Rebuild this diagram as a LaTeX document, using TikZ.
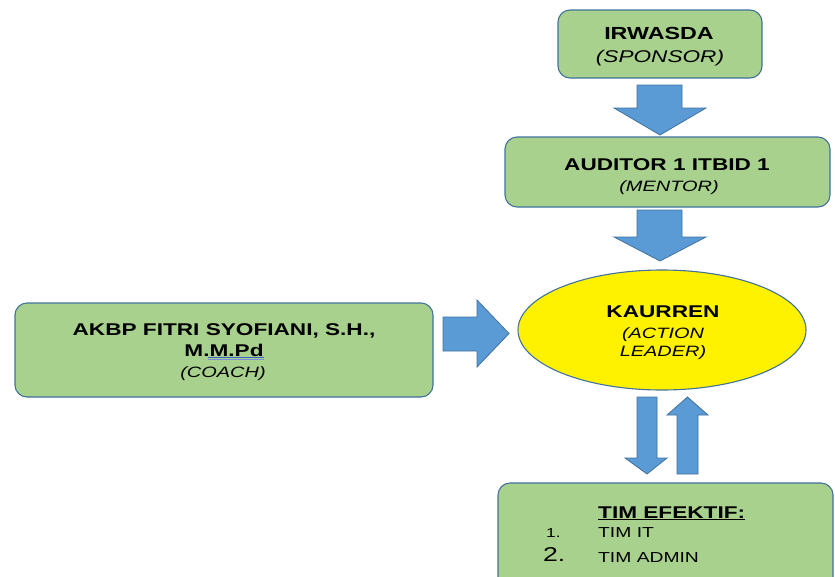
\documentclass[tikz,border=0pt]{standalone}
\usepackage{fontspec}
\usepackage{graphicx}
\setmainfont{Liberation Sans}
\usetikzlibrary{shapes.geometric,calc}
\definecolor{boxgreen}{HTML}{A9D18E}
\definecolor{edgeblue}{HTML}{41719C}
\definecolor{arrowblue}{HTML}{5B9BD5}
\definecolor{spellblue}{HTML}{3F5FC8}
\newcommand\widetxt[1]{\scalebox{1.33}[1]{#1}}
\tikzset{
  greenbox/.style={draw=edgeblue, fill=boxgreen, rounded corners=12pt, line width=1.1pt, inner sep=0pt},
  blockarrow/.style={draw=edgeblue, fill=arrowblue, line width=0.8pt, line join=miter},
  titletext/.style={anchor=base, inner sep=0pt, font=\fontsize{17}{20}\bfseries\selectfont},
  subtext/.style={anchor=base, inner sep=0pt, font=\fontsize{15}{18}\itshape\selectfont},
  listtext/.style={anchor=base west, inner sep=0pt, font=\fontsize{14.5}{17}\selectfont},
}
\begin{document}
\begin{tikzpicture}[x=1pt, y=-1pt]
\useasboundingbox (0,0) rectangle (835,576);
\clip (0,0) rectangle (835,576);
% boxes
\node[greenbox, minimum width=204pt, minimum height=68pt] (irw) at (660,44) {};
\node[greenbox, minimum width=325pt, minimum height=70pt] (aud) at (667.5,172) {};
\node[greenbox, minimum width=418pt, minimum height=94pt] (coach) at (224,350) {};
\node[ellipse, draw=edgeblue, fill=yellow, line width=1.1pt, minimum width=288pt, minimum height=120pt, inner sep=0pt] (kaur) at (662,330) {};
\draw[greenbox] (498,483) rectangle (833,600);
% texts
\node[titletext, font=\fontsize{17.5}{20}\bfseries\selectfont] (irwt) at (659,39) {\widetxt{IRWASDA}};
\node[subtext, font=\fontsize{17}{20}\itshape\selectfont] (irws) at (660,62) {\widetxt{(SPONSOR)}};
\node[titletext] (audt) at (667,170) {\widetxt{AUDITOR 1 ITBID 1}};
\node[subtext] (auds) at (669,191) {\widetxt{(MENTOR)}};
\node[titletext] (coacht) at (224,335) {\widetxt{AKBP FITRI SYOFIANI, S.H.,}};
\node[titletext] (coachm) at (224,356) {\widetxt{M.M.Pd}};
\draw[spellblue, line width=0.9pt] ($(coachm.base west)!0.3!(coachm.base east)+(0,1)$) -- ($(coachm.base east)+(0,1)$);
\draw[spellblue!70, line width=0.7pt] ($(coachm.base west)!0.3!(coachm.base east)+(0,3)$) -- ($(coachm.base east)+(0,3)$);
\node[subtext] (coachs) at (223,377) {\widetxt{(COACH)}};
\node[titletext] (kaurt) at (663,317) {\widetxt{KAURREN}};
\node[subtext] (kaurs1) at (663,338) {\widetxt{(ACTION}};
\node[subtext] (kaurs2) at (663,356) {\widetxt{LEADER)}};
\node[titletext, anchor=base west] (timt) at (598,518) {\widetxt{\underline{TIM EFEKTIF:}}};
\node[listtext, font=\fontsize{13}{15}\selectfont] (n1) at (546,537) {\widetxt{1.}};
\node[listtext] (l1) at (598,537) {\widetxt{TIM IT}};
\node[listtext, font=\fontsize{20}{22}\selectfont] (n2) at (543,561) {\widetxt{2.}};
\node[listtext] (l2) at (598,562) {\widetxt{TIM ADMIN}};
% block arrows
\draw[blockarrow] (637,85) -- (682,85) -- (682,108) -- (706,108) -- (660,135) -- (614,108) -- (637,108) -- cycle;
\draw[blockarrow] (637,210) -- (682,210) -- (682,237) -- (706,237) -- (660,261) -- (614,237) -- (637,237) -- cycle;
\draw[blockarrow] (443,317) -- (477,317) -- (477,300) -- (509,333.5) -- (477,367) -- (477,351) -- (443,351) -- cycle;
\draw[blockarrow] (637,397) -- (657,397) -- (657,458) -- (667,458) -- (647,474) -- (625,458) -- (637,458) -- cycle;
\draw[blockarrow] (677,474) -- (698,474) -- (698,415) -- (708,415) -- (687.5,397) -- (667,415) -- (677,415) -- cycle;
\end{tikzpicture}
\end{document}
